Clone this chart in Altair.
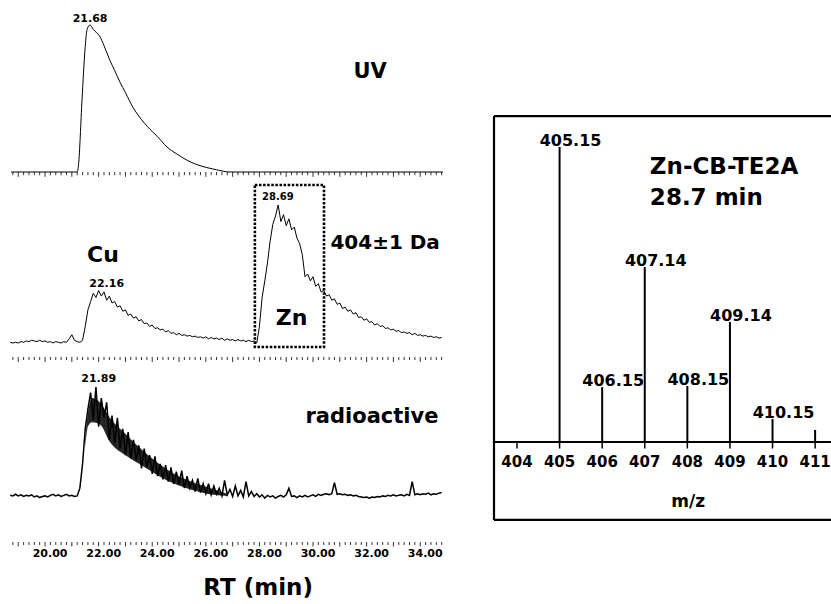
import altair as alt
import pandas as pd

FONT = "DejaVu Sans"

# ---------------- data ----------------
# UV trace (RT in min, relative intensity)
uv_rt = [18.73, 21.2, 21.25, 21.38, 21.49, 21.57, 21.68, 21.8, 22.05, 22.2, 22.42, 22.6,
         22.8, 23.0, 23.28, 23.5, 23.92, 24.2, 24.55, 24.9, 25.3, 25.6, 26.04, 26.4, 26.9, 34.85]
uv_int = [0, 0, 5, 49, 83, 97, 100, 97, 92, 86, 76, 69,
          61, 54, 44, 38, 29, 24, 17, 12.5, 8, 5.5, 3, 1.5, 0, 0]

# 404±1 Da extracted-ion trace, sampled every 0.1 min from 18.7 min
ms_int = [0.5, 0, 0.5, 0, 1, 0.5, 1.5, 1, 2, 1.5,
          1, 2, 1, 1.5, 0.5, 1, 0, 1, 0.5, 0,
          1, 0.5, 3, 6, 2, 1, 0.5, 2, 12, 24,
          30, 36, 33, 38, 34, 37, 31, 34, 29, 30,
          26, 27, 23, 24, 20, 21, 18, 19, 16, 17,
          14, 14.5, 12, 13, 10.5, 11, 9.5, 10, 8, 9,
          7, 7.5, 6, 7, 5.5, 6, 5, 5.5, 4.5, 5,
          4, 4.5, 3.5, 4.5, 3, 4, 3, 3.5, 2.5, 3.5,
          2, 3, 2, 2.5, 1.5, 2.5, 1.5, 2, 1, 2,
          1, 1.5, 0, 12, 33, 45, 58, 74, 86, 92,
          100, 88, 93, 85, 90, 82, 84, 76, 72, 64,
          48, 50, 45, 48, 41, 43, 37, 38, 34, 35,
          31, 32, 28, 29, 25, 26, 23, 24, 21, 22,
          18.5, 19, 16.5, 17.5, 15, 15.5, 13, 14, 12, 12.5,
          10.5, 11, 9.5, 10, 8.5, 9, 7.5, 8, 7, 7.5,
          6, 7, 5.5, 6, 5, 5.5, 4.5, 5, 4, 4.5,
          3.5, 4]

# radioactivity trace, sampled every 0.1 min from 18.7 min
rad_int = [1.5, 1, 2.5, 1, 2, 0.5, 1.5, 1, 2, 0,
           1, -0.5, 0.5, 1, 0, 1.5, 2.5, 1, 2, 0.5,
           1.5, 2.5, 1, 1.5, 0.5, 1, 8, 30, 62, 80,
           95, 70, 100, 64, 90, 72, 86, 52, 74, 49,
           72, 44, 62, 38, 59, 35, 52, 33, 47, 26,
           44, 27, 38, 21, 37, 19, 30, 16, 29, 14,
           27, 12, 23, 11, 24, 8, 19, 8, 15, 5,
           17, 4, 12, 3, 12, 2, 10, 2.5, 8, 1,
           15, 2, 7, 0.5, 10, 1, 6, 0, 14, 1,
           5, 0.5, 3, 0, 2, -1, 1.5, 0, 1, -1,
           0.5, 1.5, 0, 2, 8, 0.5, 1, -0.5, 1, 0,
           1.5, 0, 1, 2, 0.5, 2.5, 1.5, 2.5, 3, 2,
           3, 13, 2.5, 3, 2, 2.5, 1.5, 2, 1, 1.5,
           0.5, 0, -0.5, 0, -1, 0, -0.5, 0.5, 0, 1,
           0.5, 1.5, 1, 2, 1, 1.5, 2, 1, 2.5, 1.5,
           14, 2, 3, 2, 3, 2.5, 3.5, 2, 3, 2.5,
           3.5, 4]

# dense core of the radioactive peak (inner envelope of the noise band)
rad_env_rt = [21.5, 21.6, 21.75, 22.05, 22.42, 23.06, 23.66, 24.55, 25.15, 26.04, 26.8]
rad_env_lo = [45, 64, 68, 66, 50, 37, 28, 15, 9, 3, 1]
rad_env_hi = [55, 76, 90, 86, 72, 56, 42, 25, 17, 9, 3]

rt_tick_labels = [20, 22, 24, 26, 28, 30, 32, 34]

# mass spectrum
mz_pos = [405, 406, 407, 408, 409, 410, 411]
mz_rel = [100, 18.6, 59.3, 19.0, 40.7, 7.8, 4.1]
mz_text = ["405.15", "406.15", "407.14", "408.15", "409.14", "410.15", ""]
mz_ticks = [404, 405, 406, 407, 408, 409, 410, 411]

# ---------------- frames ----------------
grid = [round(18.7 + 0.1 * i, 2) for i in range(len(ms_int))]
uv_df = pd.DataFrame({"rt": uv_rt, "v": uv_int})
ms_df = pd.DataFrame({"rt": grid, "v": ms_int})
rad_df = pd.DataFrame({"rt": grid, "v": rad_int})
env_df = pd.DataFrame({"rt": rad_env_rt, "lo": rad_env_lo, "hi": rad_env_hi})
tick_rt = [round(18.8 + 0.2 * i, 1) for i in range(81)]
tick_major = [abs(t - round(t)) < 1e-6 for t in tick_rt]

# ---------------- scales ----------------
RT = alt.Scale(domain=[18.73, 34.85], range=[11, 443], nice=False, zero=False)
UV_Y = alt.Scale(domain=[0, 100], range=[172, 25], nice=False, zero=False)
MS_Y = alt.Scale(domain=[0, 100], range=[343, 205], nice=False, zero=False)
RAD_Y = alt.Scale(domain=[0, 100], range=[497, 387], nice=False, zero=False)
MZ_X = alt.Scale(domain=[403.46, 412.5], range=[494, 879], nice=False, zero=False)
MZ_Y = alt.Scale(domain=[0, 100], range=[442, 147], nice=False, zero=False)


def enc(xf, yf, xs, ys):
    return dict(x=alt.X(xf, type="quantitative", scale=xs, axis=None),
                y=alt.Y(yf, type="quantitative", scale=ys, axis=None))


def label(items, xs, ys, size, align="center", baseline="middle", dx=0, dy=0):
    df = pd.DataFrame(items, columns=["x", "y", "t"])
    return alt.Chart(df).mark_text(
        font=FONT, fontWeight="bold", fontSize=size, align=align,
        baseline=baseline, dx=dx, dy=dy, color="black"
    ).encode(text="t:N", **enc("x", "y", xs, ys))


def tick_row(ys, top, minor_bot, major_bot):
    df = pd.DataFrame({
        "rt": tick_rt,
        "y0": [top] * len(tick_rt),
        "y1": [major_bot if m else minor_bot for m in tick_major],
    })
    return alt.Chart(df).mark_rule(color="black", strokeWidth=0.8).encode(
        y2="y1:Q", **enc("rt", "y0", RT, ys))


def trace(df, ys, width, interp="linear"):
    return alt.Chart(df).mark_line(color="black", strokeWidth=width,
                                   interpolate=interp).encode(**enc("rt", "v", RT, ys))


# ---------------- UV panel ----------------
uv_group = alt.layer(
    trace(uv_df, UV_Y, 1.0, "monotone"),
    tick_row(UV_Y, 0, -2.2, -3.3),
    label([(21.68, 100, "21.68")], RT, UV_Y, 11, baseline="bottom", dy=-1),
    label([(32.13, 68, "UV")], RT, UV_Y, 21),
)

# ---------------- 404±1 Da panel ----------------
box_df = pd.DataFrame({"x0": [27.83], "x1": [30.41], "y0": [-2.9], "y1": [114.5]})
zn_box = alt.Chart(box_df).mark_rect(
    filled=False, stroke="black", strokeWidth=2.6, strokeDash=[2.5, 1.6]
).encode(x2="x1:Q", y2="y1:Q", **enc("x0", "y0", RT, MS_Y))

ms_group = alt.layer(
    trace(ms_df, MS_Y, 1.0),
    tick_row(MS_Y, -10.1, -12.3, -13.8),
    zn_box,
    label([(22.16, 63.8, "Cu")], RT, MS_Y, 22),
    label([(22.3, 42.8, "22.16")], RT, MS_Y, 11),
    label([(28.69, 105.8, "28.69")], RT, MS_Y, 10),
    label([(32.69, 72.5, "404±1 Da")], RT, MS_Y, 20),
    label([(29.2, 18, "Zn")], RT, MS_Y, 22),
)

# ---------------- radioactive panel + RT axis ----------------
rad_band = alt.Chart(env_df).mark_area(color="black", opacity=0.85, interpolate="monotone").encode(
    y2="hi:Q", **enc("rt", "lo", RT, RAD_Y))

rad_group = alt.layer(
    rad_band,
    trace(rad_df, RAD_Y, 1.5),
    tick_row(RAD_Y, -40.9, -43.6, -45.0),
    label([(22.0, 107, "21.89")], RT, RAD_Y, 11),
    label([(32.2, 72.7, "radioactive")], RT, RAD_Y, 21),
    label([(t, -51.8, f"{t:.2f}") for t in rt_tick_labels], RT, RAD_Y, 11, dx=5),
    label([(27.95, -82.7, "RT (min)")], RT, RAD_Y, 23),
)

# ---------------- mass spectrum ----------------
BOX_L, BOX_R, BOX_T, BOX_B = 403.46, 412.5, 110.5, -26.4
frame_df = pd.DataFrame({
    "x0": [BOX_L, BOX_L, BOX_L],
    "x1": [BOX_L, BOX_R, BOX_R],
    "y0": [BOX_B, BOX_T, BOX_B],
    "y1": [BOX_T, BOX_T, BOX_B],
})
frame = alt.Chart(frame_df).mark_rule(color="black", strokeWidth=2.2).encode(
    x2="x1:Q", y2="y1:Q", **enc("x0", "y0", MZ_X, MZ_Y))
axis_line = alt.Chart(pd.DataFrame({"x0": [BOX_L], "x1": [BOX_R], "y": [0]})).mark_rule(
    color="black", strokeWidth=1.8).encode(x2="x1:Q", **enc("x0", "y", MZ_X, MZ_Y))
mz_tick_df = pd.DataFrame({"mz": mz_ticks, "y0": [0] * len(mz_ticks), "y1": [-2.2] * len(mz_ticks)})
mz_tick_marks = alt.Chart(mz_tick_df).mark_rule(color="black", strokeWidth=1.5).encode(
    y2="y1:Q", **enc("mz", "y0", MZ_X, MZ_Y))
stem_df = pd.DataFrame({"mz": mz_pos, "h": mz_rel, "z": [0] * len(mz_pos), "t": mz_text})
stems = alt.Chart(stem_df).mark_rule(color="black", strokeWidth=2).encode(
    y2="z:Q", **enc("mz", "h", MZ_X, MZ_Y))
stem_labels = alt.Chart(stem_df).mark_text(
    font=FONT, fontWeight="bold", fontSize=16, align="center", baseline="bottom",
    dx=11, dy=2, color="black").encode(text="t:N", **enc("mz", "h", MZ_X, MZ_Y))

mz_group = alt.layer(
    frame, axis_line, mz_tick_marks, stems, stem_labels,
    label([(m, -6.8, str(m)) for m in mz_ticks], MZ_X, MZ_Y, 15),
    label([(408.02, -20.3, "m/z")], MZ_X, MZ_Y, 17),
    label([(407.12, 93.2, "Zn-CB-TE2A")], MZ_X, MZ_Y, 23, align="left"),
    label([(407.12, 82.7, "28.7 min")], MZ_X, MZ_Y, 23, align="left"),
)

chart = alt.layer(uv_group, ms_group, rad_group, mz_group).resolve_scale(
    x="independent", y="independent"
).properties(
    width=831, height=604, padding=0,
    autosize=alt.AutoSizeParams(type="none"), background="white"
).configure_view(stroke=None)

chart.save("out.html", embed_options={"renderer": "svg", "actions": False})
